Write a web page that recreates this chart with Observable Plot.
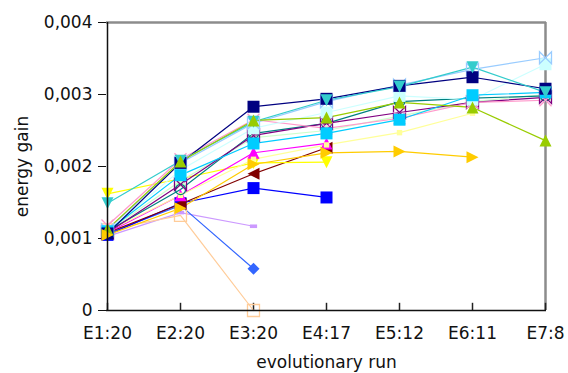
<!DOCTYPE html>
<html>
<head>
<meta charset="utf-8">
<script src="https://cdn.jsdelivr.net/npm/d3@7"></script>
<script src="https://cdn.jsdelivr.net/npm/@observablehq/plot@0.6"></script>
<style>
  html, body { margin: 0; padding: 0; background: #fff; }
</style>
</head>
<body>
<div id="chart"></div>
<script>
// Categories (x axis)
const runs = ["E1:20", "E2:20", "E3:20", "E4:17", "E5:12", "E6:11", "E7:8"];
const yTicks = [0, 0.001, 0.002, 0.003, 0.004];

// Series values (energy gain), one array per series; shorter arrays end early
const lavender   = [0.00103, 0.00136, 0.00117];
const peach      = [0.00112, 0.00132, 0.0];
const royalBlue  = [0.00107, 0.00146, 0.00058];
const blue       = [0.00105, 0.00149, 0.00170, 0.00157];
const darkRed    = [0.00108, 0.00148, 0.00190, 0.00226];
const yellow     = [0.00162, 0.00183, 0.00205, 0.00206];
const magenta    = [0.00108, 0.00160, 0.00219, 0.00232];
const lightYellow= [0.00110, 0.00160, 0.00210, 0.00230, 0.00247, 0.00274];
const lightGreen = [0.00110, 0.00180, 0.00240, 0.00250, 0.00270, 0.00290, 0.00300];
const teal       = [0.00110, 0.00168, 0.00246, 0.00260, 0.00290, 0.00295, 0.00298];
const purple     = [0.00108, 0.00175, 0.00243, 0.00260, 0.00275, 0.00289, 0.00296];
const pink       = [0.00118, 0.00210, 0.00265, 0.00253, 0.00267, 0.00289, 0.00292];
const lightCyan  = [0.00110, 0.00195, 0.00253, 0.00275, 0.00298, 0.00293, 0.00342];
const skyBlue    = [0.00112, 0.00205, 0.00260, 0.00290, 0.00313, 0.00335, 0.00351];
const deepSky    = [0.00110, 0.00188, 0.00232, 0.00246, 0.00265, 0.00299, 0.00303];
const navy       = [0.00107, 0.00205, 0.00283, 0.00294, 0.00312, 0.00324, 0.00308];
const turquoise  = [0.00149, 0.00208, 0.00262, 0.00292, 0.00311, 0.00338, 0.00303];
const yellowGreen= [0.00113, 0.00207, 0.00264, 0.00268, 0.00289, 0.00282, 0.00236];
const gold       = [0.00105, 0.00142, 0.00203, 0.00219, 0.00221, 0.00213];

// Custom marker shapes (h = half size)
const sym = (fn) => ({draw(ctx, size) { fn(ctx, Math.sqrt(size / Math.PI)); }});
const square = sym((c, h) => { c.moveTo(-h, -h); c.lineTo(h, -h); c.lineTo(h, h); c.lineTo(-h, h); c.closePath(); });
const smallSquare = sym((c, h) => { h *= 0.45; c.moveTo(-h, -h); c.lineTo(h, -h); c.lineTo(h, h); c.lineTo(-h, h); c.closePath(); });
const dash = sym((c, h) => { c.moveTo(-0.6*h, -0.3*h); c.lineTo(0.6*h, -0.3*h); c.lineTo(0.6*h, 0.3*h); c.lineTo(-0.6*h, 0.3*h); c.closePath(); });
const triUp = sym((c, h) => { c.moveTo(0, -h); c.lineTo(h, h); c.lineTo(-h, h); c.closePath(); });
const triDown = sym((c, h) => { c.moveTo(0, h); c.lineTo(h, -h); c.lineTo(-h, -h); c.closePath(); });
const triRight = sym((c, h) => { c.moveTo(h, 0); c.lineTo(-h, -h); c.lineTo(-h, h); c.closePath(); });
const triLeft = sym((c, h) => { c.moveTo(-h, 0); c.lineTo(h, -h); c.lineTo(h, h); c.closePath(); });
const diamond = sym((c, h) => { c.moveTo(0, -h); c.lineTo(h, 0); c.lineTo(0, h); c.lineTo(-h, 0); c.closePath(); });
const bowtie = sym((c, h) => { c.moveTo(-h, -h); c.lineTo(h, h); c.lineTo(h, -h); c.lineTo(-h, h); c.closePath(); });
const circle = sym((c, h) => { h *= 0.85; c.moveTo(h, 0); c.arc(0, 0, h, 0, 2 * Math.PI); });
const cross = sym((c, h) => { c.moveTo(-h, -h); c.lineTo(h, h); c.moveTo(h, -h); c.lineTo(-h, h); });

// Styles per series (drawing order)
const series = [
  {values: lavender,    color: "#cc99ff", symbol: dash,        open: false},
  {values: peach,       color: "#ffcc99", symbol: square,      open: true},
  {values: royalBlue,   color: "#3366ff", symbol: diamond,     open: false},
  {values: blue,        color: "#0000ff", symbol: square,      open: false},
  {values: darkRed,     color: "#800000", symbol: triLeft,     open: false},
  {values: yellow,      color: "#ffff00", symbol: triDown,     open: false},
  {values: magenta,     color: "#ff00ff", symbol: triUp,       open: false},
  {values: lightYellow, color: "#ffff99", symbol: smallSquare, open: false},
  {values: lightGreen,  color: "#ccffcc", symbol: triUp,       open: false},
  {values: teal,        color: "#008080", symbol: circle,      open: true},
  {values: purple,      color: "#800080", symbol: bowtie,      open: true},
  {values: pink,        color: "#ff99cc", symbol: cross,       open: true},
  {values: lightCyan,   color: "#ccffff", symbol: square,      open: false},
  {values: skyBlue,     color: "#99ccff", symbol: bowtie,      open: true},
  {values: deepSky,     color: "#00ccff", symbol: square,      open: false},
  {values: navy,        color: "#000080", symbol: square,      open: false},
  {values: turquoise,   color: "#33cccc", symbol: triDown,     open: false},
  {values: yellowGreen, color: "#99cc00", symbol: triUp,       open: false},
  {values: gold,        color: "#ffcc00", symbol: triRight,    open: false}
];

const rowsOf = (vals) => vals.map((v, i) => ({run: runs[i], value: v}));

const marks = [
  Plot.ruleY([0.004], {stroke: "#8c8c8c", strokeWidth: 2.5}),
  Plot.ruleX([runs[runs.length - 1]], {stroke: "#8c8c8c", strokeWidth: 2.5}),
  Plot.axisY({ticks: yTicks, tickSize: 8, tickPadding: 6, label: null,
    tickFormat: d => d === 0 ? "0" : d.toFixed(3).replace(".", ",")}),
  Plot.axisX({tickSize: 0, tickPadding: 16, label: null}),
  Plot.ruleX(runs, {y1: 0, y2: 0.0001, stroke: "#222", strokeWidth: 1.5})
];

for (const s of series) {
  const rows = rowsOf(s.values);
  marks.push(Plot.line(rows, {x: "run", y: "value", stroke: s.color, strokeWidth: 1.2}));
}
for (const s of series) {
  const rows = rowsOf(s.values);
  marks.push(Plot.dot(rows, {
    x: "run", y: "value", symbol: s.symbol, r: 6,
    fill: s.open ? "none" : s.color,
    stroke: s.open ? s.color : "none",
    strokeWidth: 1.3
  }));
}

marks.push(
  Plot.ruleX([runs[0]], {stroke: "#111", strokeWidth: 1.5}),
  Plot.ruleY([0], {stroke: "#111", strokeWidth: 1.5}),
  Plot.text(["energy gain"], {frameAnchor: "left", dx: -84, rotate: -90, textAnchor: "middle", lineAnchor: "middle", fontSize: 17, fill: "#111"}),
  Plot.text(["evolutionary run"], {frameAnchor: "bottom", dy: 52, textAnchor: "middle", lineAnchor: "middle", fontSize: 17, fill: "#111"})
);

const chart = Plot.plot({
  width: 568,
  height: 373,
  marginLeft: 106,
  marginRight: 22,
  marginTop: 22,
  marginBottom: 63,
  style: {fontFamily: "DejaVu Sans", fontSize: "17px", color: "#111", background: "#fff"},
  x: {type: "point", domain: runs, padding: 0},
  y: {domain: [0, 0.004]},
  marks
});
document.getElementById("chart").appendChild(chart);
</script>
</body>
</html>
